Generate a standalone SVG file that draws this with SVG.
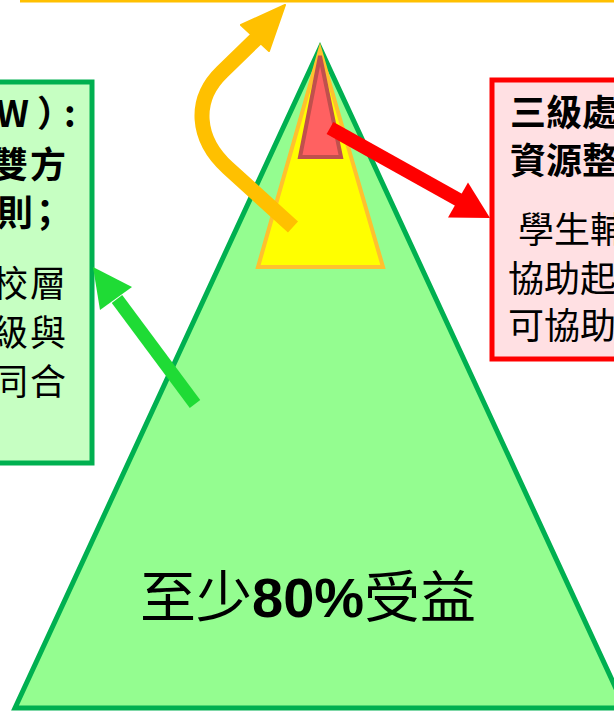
<svg xmlns="http://www.w3.org/2000/svg" width="614" height="712" viewBox="0 0 614 712">
<style>
.bold{font-family:"Noto Sans CJK TC","Liberation Sans",sans-serif;font-weight:bold;font-size:36px;fill:#000}
.reg{font-family:"Noto Sans CJK TC","Liberation Sans",sans-serif;font-size:36px;fill:#000}
.big{font-family:"Noto Sans CJK TC",sans-serif;font-size:56px;fill:#000}
.lat{font-family:"Liberation Sans",Arial,sans-serif;font-weight:bold}
</style>
<rect width="614" height="712" fill="#fff"/>
<line x1="20" y1="1" x2="614" y2="1" stroke="#FFC000" stroke-width="3"/>
<g id="pyramid">
<polygon points="320,48 15,708 625,708" fill="#94FD90" stroke="#00B050" stroke-width="5" stroke-linejoin="miter"/>
</g>
<g id="tier2">
<polygon points="320,50 258,267 383,267" fill="#FFFF00" stroke="#FFC12E" stroke-width="4"/>
</g>
<g id="tier3">
<polygon points="320,56 300,157 341,157" fill="#FF6161" stroke="#C0504D" stroke-width="4"/>
</g>
<g id="label">
<text class="big" x="140" y="617">至少<tspan class="lat">80%</tspan>受益</text>
</g>
<g id="leftbox">
<rect x="-20" y="82" width="112" height="381" fill="#C6FFC2" stroke="#00B050" stroke-width="5"/>
<text class="bold" x="-4 37 64" y="127">W）:</text>
<text class="bold" x="-8 30" y="178">雙方</text>
<text class="bold" x="-3 27" y="226">則；</text>
<text class="reg" x="-8 30" y="297">校層</text>
<text class="reg" x="-8 30" y="346">級與</text>
<text class="reg" x="-8 30" y="395">同合</text>
</g>
<g id="rightbox">
<rect x="492" y="80" width="150" height="279" fill="#FFE0E3" stroke="#FF0000" stroke-width="5"/>
<text class="bold" x="510" y="126">三級處</text>
<text class="bold" x="510" y="174">資源整</text>
<text class="reg" x="518" y="243">學生輔</text>
<text class="reg" x="508" y="292">協助起</text>
<text class="reg" x="508" y="339">可協助</text>
</g>
<g id="connectors">
<path d="M293,227 L228,168 C196,139 193,100 222,72 L257,38" fill="none" stroke="#FFC000" stroke-width="15" stroke-linejoin="round"/>
<polygon points="285,5 241,25 269,51" fill="#FFC000" stroke="#FFC000" stroke-width="2" stroke-linejoin="round"/>
<line x1="330" y1="128" x2="459" y2="200" stroke="#FF0000" stroke-width="14"/>
<polygon points="490,218 448,217.5 468,182.5" fill="#FF0000"/>
<line x1="195" y1="404" x2="117" y2="299" stroke="#1FDB35" stroke-width="13"/>
<polygon points="93,267 132,287 100,310" fill="#1FDB35"/>
</g>
</svg>
